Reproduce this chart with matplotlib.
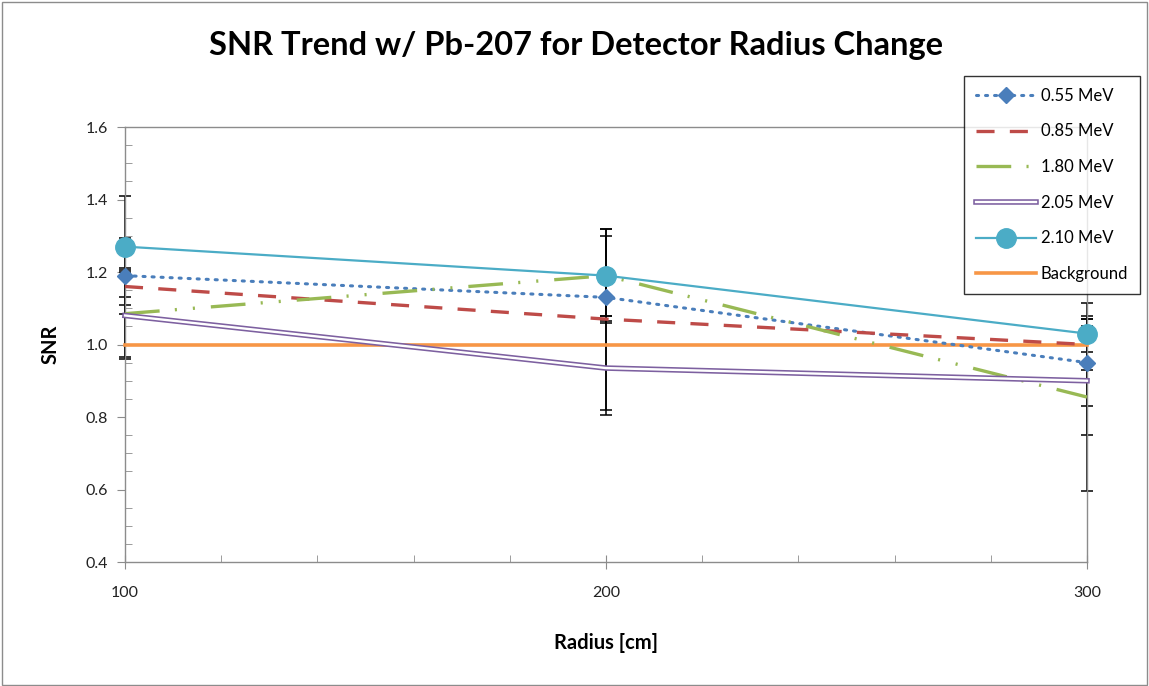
import matplotlib
matplotlib.use("Agg")
import matplotlib.pyplot as plt
from matplotlib.ticker import MultipleLocator
from matplotlib.patches import Rectangle

plt.rcParams['font.family'] = ['Lato', 'DejaVu Sans']
plt.rcParams['lines.scale_dashes'] = False

radius = [100, 200, 300]
snr_055 = [1.19, 1.13, 0.95]
snr_085 = [1.16, 1.07, 1.00]
snr_180 = [1.085, 1.19, 0.855]
snr_205 = [1.08, 0.935, 0.90]
snr_210 = [1.27, 1.19, 1.03]
background = [1.0, 1.0, 1.0]

err_055 = [0.105, 0.05, 0.12]
err_085 = [0.05, 0.25, 0.07]
err_180 = [0.12, 0.11, 0.26]
err_205 = [0.12, 0.13, 0.15]
err_210 = [0.14, 0.13, 0.05]

labels = ['0.55 MeV', '0.85 MeV', '1.80 MeV', '2.05 MeV', '2.10 MeV', 'Background']

fig = plt.figure(figsize=(11.49, 6.86), dpi=100)
fig.add_artist(Rectangle((0.002, 0.002), 0.996, 0.995, transform=fig.transFigure,
                         fill=False, edgecolor='#8c8c8c', lw=1))
ax = fig.add_axes([125/1149, 1-562/686, (1087-125)/1149, (562-127)/686])

ebkw = dict(ecolor='black', elinewidth=1.1, capsize=4, capthick=1.1, fmt='none', zorder=2)
for y, e in [(snr_055, err_055), (snr_085, err_085), (snr_180, err_180),
             (snr_205, err_205), (snr_210, err_210)]:
    eb = ax.errorbar(radius, y, yerr=e, **ebkw)
    for art in list(eb.lines[1]) + list(eb.lines[2]):
        art.set_clip_on(False)

h1, = ax.plot(radius, snr_055, color='#4A7EBB', lw=2.2, linestyle=(0, (1.5, 5)),
              dash_capstyle='round', marker='D', markersize=8, zorder=4, clip_on=False)
h2, = ax.plot(radius, snr_085, color='#BE4B48', lw=2.4, linestyle=(0, (13, 11)), zorder=4,
              clip_on=False)
h3, = ax.plot(radius, snr_180, color='#98B954', lw=2.4,
              linestyle=(0, (25, 11, 1.5, 11.5, 1.5, 11.5)), zorder=4, clip_on=False)
h4a, = ax.plot(radius, snr_205, color='#7D60A0', lw=4.0, zorder=4, clip_on=False)
h4b, = ax.plot(radius, snr_205, color='white', lw=1.7, zorder=4, clip_on=False)
h5, = ax.plot(radius, snr_210, color='#4BACC6', lw=1.6, marker='o', markersize=14, zorder=5,
              clip_on=False)
h6, = ax.plot(radius, background, color='#F79646', lw=2.6, zorder=3, clip_on=False)

ax.set_xlim(100, 300)
ax.set_ylim(0.4, 1.6)
ax.xaxis.set_major_locator(MultipleLocator(100))
ax.xaxis.set_minor_locator(MultipleLocator(20))
ax.yaxis.set_major_locator(MultipleLocator(0.2))
ax.yaxis.set_minor_locator(MultipleLocator(0.05))
ax.yaxis.set_major_formatter(plt.FuncFormatter(lambda v, p: f'{v:.1f}'))

for s in ax.spines.values():
    s.set_color('#8c8c8c')
    s.set_linewidth(1)
ax.tick_params(axis='x', which='major', direction='inout', length=10, color='#8c8c8c',
               labelsize=11.5, pad=12, labelcolor='#222222')
ax.tick_params(axis='x', which='minor', direction='in', length=5, color='#8c8c8c')
ax.tick_params(axis='y', which='major', direction='out', length=6, color='#8c8c8c',
               labelsize=11.5, pad=6, labelcolor='#222222')
ax.tick_params(axis='y', which='minor', direction='in', length=5, color='#8c8c8c')

fig.text(576/1149, 1-45/686, 'SNR Trend w/ Pb-207 for Detector Radius Change',
         ha='center', va='center', fontsize=23.5, fontweight='bold')
ax.set_xlabel('Radius [cm]', fontsize=14.5, fontweight='bold', labelpad=24)
ax.set_ylabel('SNR', fontsize=14.5, fontweight='bold', labelpad=18)

leg = fig.legend([h1, h2, h3, (h4a, h4b), h5, h6], labels,
                 loc='upper right', bbox_to_anchor=(1140/1149, 1-76/686),
                 fontsize=12, frameon=True, fancybox=False, edgecolor='black',
                 labelspacing=1.18, handlelength=3.6, handletextpad=0.3,
                 borderpad=0.7, borderaxespad=0)
leg.get_frame().set_linewidth(1)

fig.savefig('out.png', dpi=100)
